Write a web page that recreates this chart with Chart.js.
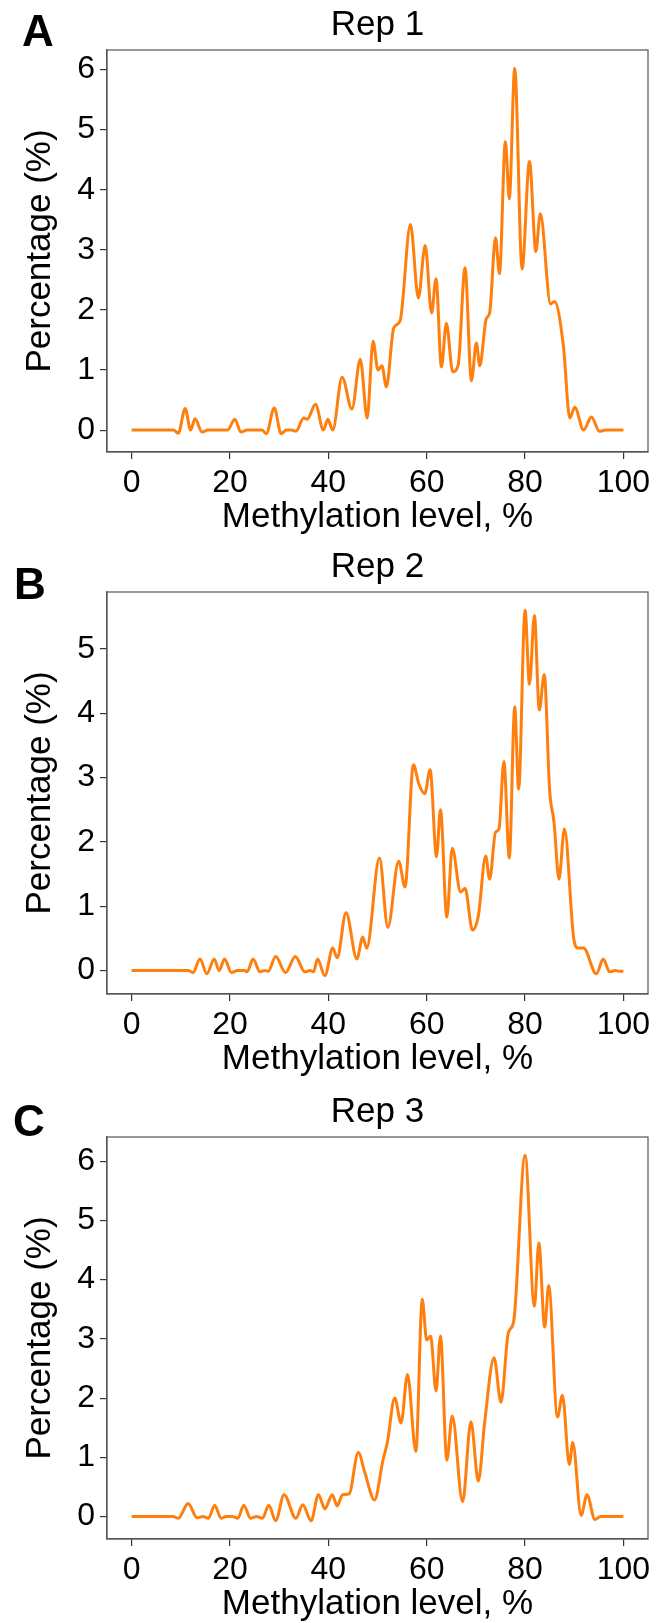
<!DOCTYPE html>
<html>
<head>
<meta charset="utf-8">
<script src="https://cdn.jsdelivr.net/npm/chart.js@4.4.1/dist/chart.umd.min.js"></script>
<style>
  body { margin: 0; width: 665px; height: 1623px; overflow: hidden; background: #fff; }
  .panel { position: absolute; left: 0; width: 665px; height: 545px; }
  .letter { position: absolute; font-family: "Liberation Sans", Arial, sans-serif; font-weight: bold; font-size: 44px; line-height: 1; color: #000; }
</style>
</head>
<body>
<div class="panel" style="top:0"><canvas id="rep1"></canvas></div>
<div class="panel" style="top:542px"><canvas id="rep2"></canvas></div>
<div class="panel" style="top:1087px"><canvas id="rep3"></canvas></div>
<div class="letter" style="left:22px; top:9px">A</div>
<div class="letter" style="left:14px; top:562px">B</div>
<div class="letter" style="left:13px; top:1099px">C</div>

<script>
// Methylation level (%) -> percentage of sites
const rep1X = [0, 8.5, 9.5, 10.9, 12.0, 12.9, 14.3, 15.5, 19.5, 21.0, 22.2, 23.5, 26.5, 27.4, 29.0, 30.4, 31.5, 32.5, 33.4, 35.0, 35.7, 37.4, 39.0, 39.9, 40.9, 42.8, 44.8, 46.5, 47.9, 49.1, 50.1, 50.9, 51.8, 53.3, 54.6, 56.7, 58.3, 59.7, 61.0, 61.9, 63.0, 64.0, 65.3, 66.4, 67.8, 69.1, 70.1, 70.8, 72.1, 72.8, 74.0, 74.8, 76.0, 76.8, 77.9, 79.4, 80.9, 82.2, 83.1, 85.2, 86.0, 87.8, 89.1, 90.1, 91.9, 93.5, 95.1, 96.4, 100];
const rep1Y = [0, 0, -0.05, 0.36, 0.0, 0.19, -0.03, 0, 0, 0.18, -0.03, 0, 0, -0.06, 0.37, -0.06, 0.0, 0.0, -0.02, 0.2, 0.18, 0.43, 0.0, 0.18, 0.0, 0.88, 0.35, 1.18, 0.2, 1.48, 1.0, 1.07, 0.72, 1.7, 1.82, 3.42, 2.2, 3.07, 1.95, 2.52, 1.05, 1.78, 0.97, 1.08, 2.7, 0.82, 1.45, 1.07, 1.85, 1.95, 3.2, 2.6, 4.8, 3.85, 6.02, 2.68, 4.47, 2.97, 3.6, 2.1, 2.14, 1.4, 0.2, 0.38, 0.0, 0.22, -0.02, 0.0, 0];

const rep2X = [0, 11.5, 12.5, 13.9, 15.3, 16.8, 17.8, 18.9, 20.3, 21.5, 23.0, 23.5, 24.7, 26.1, 27.0, 27.8, 29.3, 31.3, 33.3, 35.2, 36.3, 37.0, 37.8, 39.3, 40.9, 41.8, 43.6, 45.8, 47.0, 47.8, 50.4, 52.1, 54.3, 55.6, 57.3, 58.4, 59.6, 60.7, 62.0, 62.8, 64.1, 65.2, 66.9, 67.8, 69.3, 70.5, 72.0, 72.8, 74.0, 74.7, 75.7, 76.8, 77.9, 78.7, 80.0, 80.9, 81.9, 82.9, 83.9, 85.0, 85.9, 86.9, 88.0, 89.9, 90.8, 91.9, 94.5, 95.9, 97.2, 98.3, 99.2, 100];
const rep2Y = [0, 0, -0.03, 0.18, -0.05, 0.18, 0.0, 0.18, -0.03, 0, 0, -0.02, 0.18, -0.02, 0.0, -0.01, 0.22, -0.03, 0.22, -0.02, 0.0, -0.02, 0.18, -0.08, 0.35, 0.2, 0.9, 0.18, 0.52, 0.35, 1.75, 0.67, 1.7, 1.3, 3.2, 2.9, 2.75, 3.12, 1.77, 2.5, 0.83, 1.9, 1.22, 1.28, 0.63, 0.85, 1.78, 1.42, 2.15, 2.2, 3.25, 1.75, 4.1, 2.82, 5.6, 4.45, 5.52, 4.05, 4.6, 2.8, 2.3, 1.42, 2.2, 0.5, 0.35, 0.35, -0.05, 0.18, -0.02, 0.0, -0.01, -0.01];

const rep3X = [0, 8.5, 9.5, 11.5, 13.3, 14.5, 15.6, 16.9, 18.2, 19.2, 20.5, 21.6, 22.8, 24.2, 25.4, 26.6, 27.9, 29.3, 31.0, 33.4, 34.8, 36.5, 38.0, 39.3, 40.8, 41.8, 42.9, 44.2, 46.1, 47.4, 49.4, 51.1, 52.0, 53.5, 54.8, 56.1, 57.8, 59.1, 60.0, 60.8, 61.9, 62.8, 64.1, 65.2, 67.3, 69.0, 70.5, 71.8, 73.7, 75.1, 76.6, 77.7, 80.0, 81.9, 82.8, 84.0, 84.8, 86.6, 87.6, 89.0, 89.7, 91.4, 92.6, 94.2, 95.3, 100];
const rep3Y = [0, 0, -0.03, 0.22, -0.02, 0.0, -0.03, 0.19, -0.03, 0, 0, -0.03, 0.19, -0.03, 0.0, -0.03, 0.19, -0.07, 0.37, -0.03, 0.2, -0.07, 0.37, 0.13, 0.37, 0.18, 0.37, 0.38, 1.08, 0.75, 0.28, 0.95, 1.25, 2.0, 1.58, 2.4, 1.1, 3.67, 2.98, 3.05, 2.12, 3.05, 0.95, 1.7, 0.25, 1.6, 0.6, 1.6, 2.68, 1.93, 3.1, 3.3, 6.1, 3.55, 4.62, 3.2, 3.9, 1.68, 2.05, 0.88, 1.25, 0.02, 0.37, -0.05, 0.0, 0];

const titles = ['Rep 1', 'Rep 2', 'Rep 3'];
const xTickStep = 20;
const yTickStep = 1;
const xLabel = 'Methylation level, %';
const yLabel = 'Percentage (%)';

const FONT = '"Liberation Sans", Arial, sans-serif';

// frame around the plot area (top and right sides too, like matplotlib)
const framePlugin = {
  id: 'frame',
  afterDraw(chart) {
    const a = chart.chartArea;
    const ctx = chart.ctx;
    ctx.save();
    ctx.strokeStyle = '#555';
    ctx.lineWidth = 1.2;
    ctx.strokeRect(a.left, a.top, a.right - a.left, a.bottom - a.top);
    ctx.restore();
  }
};

function makeChart(id, title, xs, ys) {
  const points = xs.map((x, i) => ({ x: x, y: ys[i] }));
  const lo = Math.min(...ys), hi = Math.max(...ys);
  const pad = (hi - lo) * 0.05;
  return new Chart(document.getElementById(id), {
    type: 'line',
    data: {
      datasets: [{
        data: points,
        borderColor: '#ff7f0e',
        borderWidth: 3,
        pointRadius: 0,
        fill: false,
        cubicInterpolationMode: 'monotone'
      }]
    },
    options: {
      responsive: true,
      maintainAspectRatio: false,
      devicePixelRatio: 1,
      animation: false,
      layout: { padding: { left: 0, right: 17, top: 0, bottom: 0 } },
      plugins: {
        legend: { display: false },
        tooltip: { enabled: false },
        title: {
          display: true,
          text: title,
          fullSize: false,
          color: '#000',
          font: { family: FONT, size: 35, weight: 'normal' },
          padding: { top: 4, bottom: 4 }
        }
      },
      scales: {
        x: {
          type: 'linear',
          min: -5,
          max: 105,
          afterFit: (s) => { s.height = 93; },
          ticks: {
            stepSize: xTickStep,
            includeBounds: false,
            color: '#000',
            padding: 5,
            maxRotation: 0,
            font: { family: FONT, size: 32 }
          },
          grid: { display: true, drawOnChartArea: false, drawTicks: true, tickLength: 7, color: '#333', lineWidth: 1.2 },
          border: { display: true, color: '#555', width: 1.2 },
          title: { display: true, text: xLabel, color: '#000', font: { family: FONT, size: 35 }, padding: { top: 0, bottom: 7 } }
        },
        y: {
          type: 'linear',
          min: lo - pad,
          max: hi + pad,
          afterFit: (s) => { s.width = 107; },
          ticks: {
            stepSize: yTickStep,
            includeBounds: false,
            color: '#000',
            padding: 5,
            font: { family: FONT, size: 32 }
          },
          grid: { display: true, drawOnChartArea: false, drawTicks: true, tickLength: 7, color: '#333', lineWidth: 1.2 },
          border: { display: true, color: '#555', width: 1.2 },
          title: { display: true, text: yLabel, color: '#000', font: { family: FONT, size: 35 }, padding: { top: 19, bottom: 0 } }
        }
      }
    },
    plugins: [framePlugin]
  });
}

makeChart('rep1', titles[0], rep1X, rep1Y);
makeChart('rep2', titles[1], rep2X, rep2Y);
makeChart('rep3', titles[2], rep3X, rep3Y);
</script>
</body>
</html>
